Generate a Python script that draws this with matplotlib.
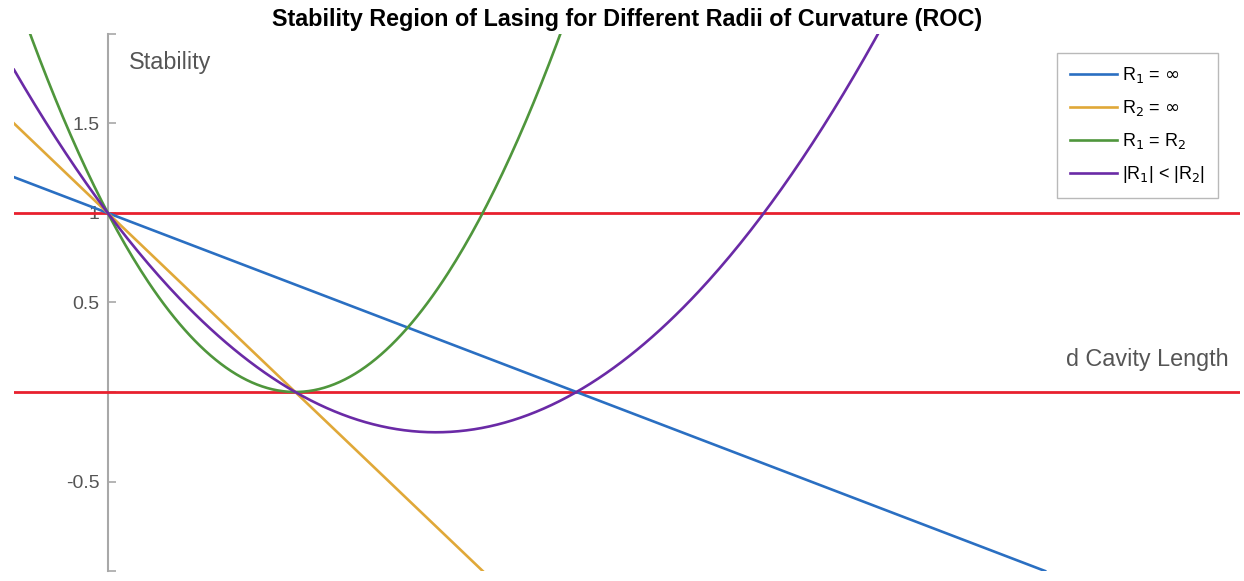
import matplotlib.pyplot as plt
import numpy as np

plt.rcParams['font.family'] = ['Liberation Sans', 'DejaVu Sans']

# cavity lengths (arbitrary units) and mirror radii for each case
d = np.linspace(-0.5, 5, 400)
R_short = 1.0
R_long = 2.5
cases = [
    (np.inf, R_long, r'R$_1$ = $\infty$', '#2a6fc2'),
    (R_short, np.inf, r'R$_2$ = $\infty$', '#e0a838'),
    (R_short, R_short, r'R$_1$ = R$_2$', '#4f963c'),
    (R_short, R_long, r'|R$_1$| < |R$_2$|', '#6a2aa6'),
]
limits = [0, 1]
ytick_vals = [-1, -0.5, 0, 0.5, 1, 1.5, 2]
ytick_text = ['', '-0.5', '', '0.5', '1', '1.5', '']


def stability():
    fig = plt.figure(figsize=(12.44, 5.81), dpi=100)
    ax = fig.add_axes([0.0113, 0.0172, 0.9855, 0.9243])

    for r1, r2, name, col in cases:
        g = (1 - d / r1) * (1 - d / r2)
        ax.plot(d, g, color=col, lw=1.9, label=name, zorder=3)
    for v in limits:
        ax.axhline(v, color='#e8202e', lw=2.0, zorder=2)

    ax.set_xlim(-0.5, 6.04)
    ax.set_ylim(-1, 2)

    for s in ['top', 'right', 'bottom']:
        ax.spines[s].set_visible(False)
    ax.spines['left'].set_position(('data', 0))
    ax.spines['left'].set_color('#a8a8a8')
    ax.spines['left'].set_linewidth(1.5)
    ax.spines['left'].set_zorder(1)
    ax.set_xticks([])
    ax.set_yticks(ytick_vals)
    ax.set_yticklabels(ytick_text)
    ax.tick_params(axis='y', direction='in', length=6, width=1.2,
                   color='#a8a8a8', labelcolor='#555555', labelsize=14, pad=6)

    ax.text(0.11, 1.84, 'Stability', fontsize=16.8, color='#555555', va='center')
    ax.text(5.11, 0.18, 'd Cavity Length', fontsize=16.8, color='#555555', va='center')
    ax.set_title('Stability Region of Lasing for Different Radii of Curvature (ROC)',
                 fontsize=16.8, fontweight='bold', pad=6)

    leg = ax.legend(loc='upper right', bbox_to_anchor=(0.982, 0.965), fontsize=13,
                    frameon=True, fancybox=False, handlelength=2.6,
                    handletextpad=0.3, labelspacing=0.72, borderpad=0.7,
                    borderaxespad=0)
    leg.get_frame().set_edgecolor('#a8a8a8')
    leg.get_frame().set_linewidth(1.0)

    plt.savefig('out.png', dpi=100)


if __name__ == '__main__':
    stability()
